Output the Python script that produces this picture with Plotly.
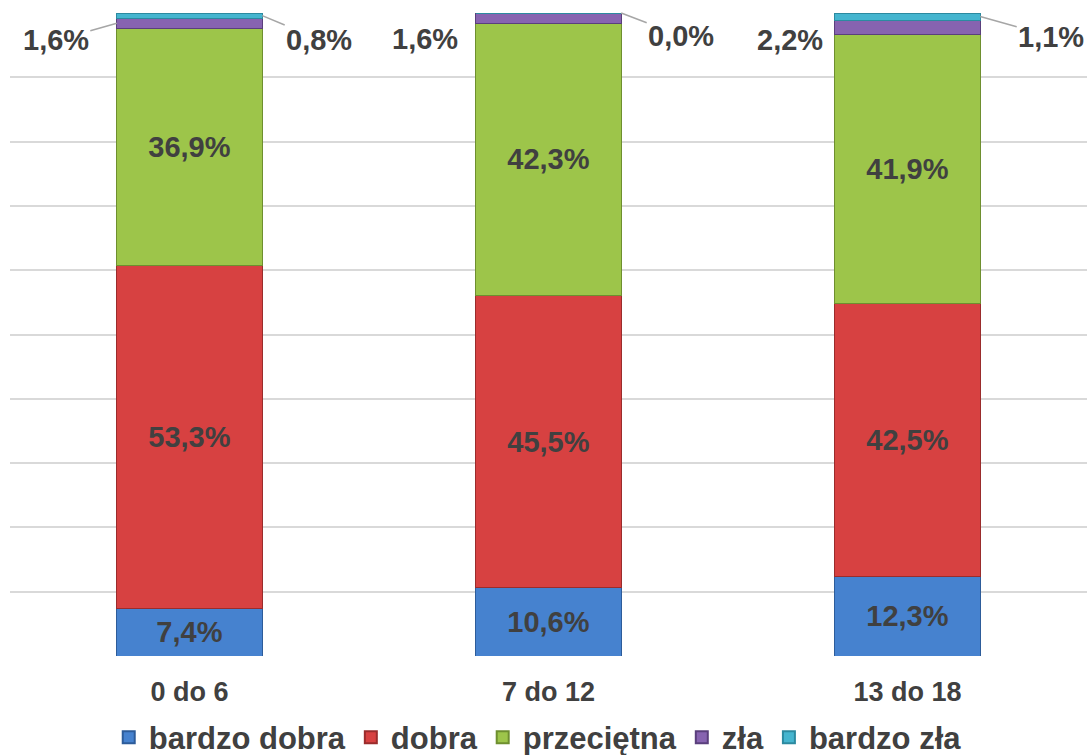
import plotly.graph_objects as go

categories = ["0 do 6", "7 do 12", "13 do 18"]
series_names = ["bardzo dobra", "dobra", "przeciętna", "zła", "bardzo zła"]
bardzo_dobra = [7.4, 10.6, 12.3]
dobra = [53.3, 45.5, 42.5]
przecietna = [36.9, 42.3, 41.9]
zla = [1.6, 1.6, 2.2]
bardzo_zla = [0.8, 0.0, 1.1]

values = [bardzo_dobra, dobra, przecietna, zla, bardzo_zla]
colors = ["#4682cf", "#d74141", "#9dc54a", "#8763b0", "#45b5cf"]
edge_colors = ["#2d5c9a", "#9a2c2c", "#6e8f2f", "#5a3f7c", "#2c8aa0"]
inside = [True, True, True, False, False]

TXT = "#404040"
FONT = "Liberation Sans, Arial, sans-serif"

def fmt(v):
    return f"{v:.1f}".replace(".", ",") + "%"

fig = go.Figure()
for name, vals, col, ecol, ins in zip(series_names, values, colors, edge_colors, inside):
    fig.add_trace(go.Bar(
        x=categories, y=vals, name=name,
        marker=dict(color=col, line=dict(color=ecol, width=1)),
        width=0.405,
        text=[fmt(v) for v in vals] if ins else None,
        textposition="inside" if ins else "none",
        insidetextanchor="middle",
        textangle=0,
        textfont=dict(family=FONT, size=29, color=TXT, weight="bold"),
        hoverinfo="skip",
    ))

half = 0.405 / 2
annotations = []
left_offsets = [(-61, 17, True), (-124, -21, False), (-118, -13, False)]
right_offsets = [(57, 24), (60, 23), (71, 20)]
for i in range(3):
    base = bardzo_dobra[i] + dobra[i] + przecietna[i]
    zmid = base + zla[i] / 2
    bzmid = base + zla[i] + bardzo_zla[i] / 2
    dx, dy, arrow = left_offsets[i]
    if arrow:
        annotations.append(dict(x=i - half, y=zmid, xref="x", yref="y", text=fmt(zla[i]),
                                showarrow=True, arrowhead=0, arrowwidth=1.5, arrowcolor="#a6a6a6",
                                ax=dx, ay=dy, standoff=0,
                                font=dict(family=FONT, size=29, color=TXT, weight="bold")))
    else:
        annotations.append(dict(x=i, y=zmid, xref="x", yref="y", text=fmt(zla[i]),
                                showarrow=False, xshift=dx, yshift=dy,
                                font=dict(family=FONT, size=29, color=TXT, weight="bold")))
    rx, ry = right_offsets[i]
    annotations.append(dict(x=i + half, y=bzmid, xref="x", yref="y", text=fmt(bardzo_zla[i]),
                            showarrow=True, arrowhead=0, arrowwidth=1.5, arrowcolor="#a6a6a6",
                            ax=rx, ay=ry, standoff=0,
                            font=dict(family=FONT, size=29, color=TXT, weight="bold")))

fig.update_layout(
    barmode="stack",
    width=1087, height=755,
    margin=dict(l=10, r=0, t=13, b=99, autoexpand=False),
    paper_bgcolor="white", plot_bgcolor="white",
    font=dict(family=FONT, color=TXT),
    annotations=annotations,
    showlegend=True,
    legend=dict(orientation="h", x=0.49, xanchor="center", y=-0.085, yanchor="top",
                traceorder="normal",
                font=dict(family=FONT, size=31, color=TXT, weight="bold"),
                itemsizing="constant", tracegroupgap=0),
    xaxis=dict(range=[-0.5, 2.5], showgrid=False, showline=False, zeroline=False,
               automargin=False,
               ticks="outside", ticklen=12, tickcolor="rgba(0,0,0,0)",
               tickfont=dict(family=FONT, size=27, color=TXT, weight="bold")),
    yaxis=dict(range=[0, 100], dtick=10, showgrid=True, gridcolor="#d9d9d9", gridwidth=2,
               automargin=False,
               showticklabels=False, zeroline=False, showline=False),
)

fig.write_html("out.html", config={"displayModeBar": False},
               post_script="document.body.style.margin='0';")
